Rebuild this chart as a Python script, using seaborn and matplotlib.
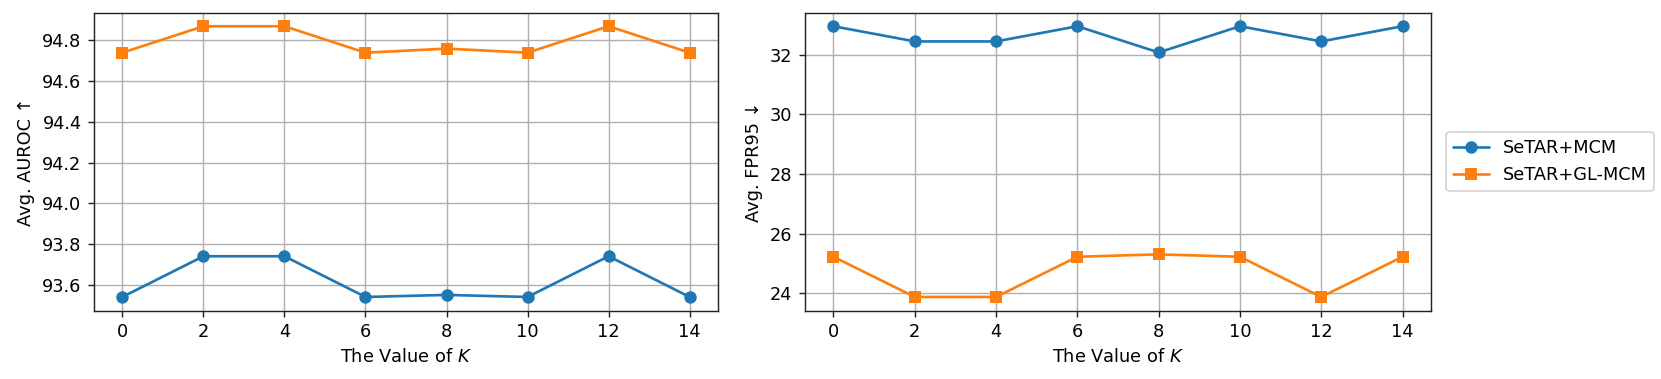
import matplotlib
matplotlib.use("Agg")
import matplotlib.pyplot as plt
import seaborn as sns
import pandas as pd

k_values = [0, 2, 4, 6, 8, 10, 12, 14]
series_names = ["SeTAR+MCM", "SeTAR+GL-MCM"]
auroc_mcm = [93.54, 93.74, 93.74, 93.54, 93.55, 93.54, 93.74, 93.54]
auroc_glmcm = [94.74, 94.87, 94.87, 94.74, 94.76, 94.74, 94.87, 94.74]
fpr_mcm = [32.96, 32.45, 32.45, 32.96, 32.08, 32.96, 32.45, 32.96]
fpr_glmcm = [25.22, 23.87, 23.87, 25.22, 25.30, 25.22, 23.87, 25.22]

def make_df(a, b):
    return pd.DataFrame({
        "K": k_values * 2,
        "val": a + b,
        "method": [series_names[0]] * len(k_values) + [series_names[1]] * len(k_values),
    })

sns.set_style("ticks")
plt.rcParams["font.family"] = ["DejaVu Sans"]
plt.rcParams["font.size"] = 10
for key in ["text.color", "axes.labelcolor", "xtick.color", "ytick.color",
            "xtick.labelcolor", "ytick.labelcolor"]:
    plt.rcParams[key] = "black"

dpi = 128
W, H = 1661, 379
fig = plt.figure(figsize=(W / dpi, H / dpi), dpi=dpi)
top, bottom = 12.7, 310.5
ax1 = fig.add_axes([94 / W, 1 - bottom / H, (718 - 94) / W, (bottom - top) / H])
ax2 = fig.add_axes([805 / W, 1 - bottom / H, (1431 - 805) / W, (bottom - top) / H])

palette = {series_names[0]: "#1f77b4", series_names[1]: "#ff7f0e"}
markers = {series_names[0]: "o", series_names[1]: "s"}

for ax, df, ylabel in [
    (ax1, make_df(auroc_mcm, auroc_glmcm), "Avg. AUROC ↑"),
    (ax2, make_df(fpr_mcm, fpr_glmcm), "Avg. FPR95 ↓"),
]:
    sns.lineplot(data=df, x="K", y="val", hue="method", style="method",
                 markers=markers, dashes=False, palette=palette, ax=ax,
                 markersize=7, markeredgewidth=0, linewidth=1.5)
    ax.set_xlabel("The Value of $K$")
    ax.set_ylabel(ylabel)
    ax.set_xticks(k_values)
    ax.grid(True, color="#b0b0b0", linewidth=0.8)
    for s in ax.spines.values():
        s.set_visible(True)
        s.set_color("#222222")
    ax.tick_params(direction="out", length=3.5, color="#222222")

ax1.get_legend().remove()
leg = ax2.legend(loc="center left", bbox_to_anchor=(1.01, 0.5), frameon=True)
leg.get_frame().set_edgecolor("#cccccc")

fig.savefig("out.png", dpi=dpi)
